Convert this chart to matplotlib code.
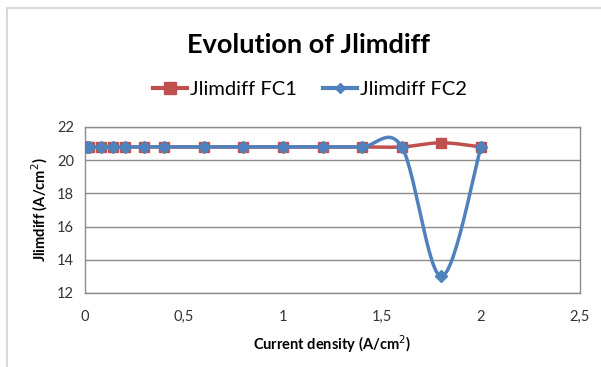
import matplotlib.pyplot as plt
import numpy as np
from matplotlib.lines import Line2D

plt.rcParams['font.family'] = ['Lato', 'DejaVu Sans']

# current density (A/cm2) and Jlimdiff values for both fuel cells
current = [0.01, 0.02, 0.08, 0.14, 0.2, 0.3, 0.4, 0.6, 0.8, 1.0, 1.2, 1.4, 1.6, 1.8, 2.0]
jlim_fc1 = [20.8, 20.8, 20.8, 20.8, 20.8, 20.8, 20.8, 20.8, 20.8, 20.8, 20.8, 20.8, 20.8, 21.05, 20.8]
jlim_fc2 = [20.8, 20.8, 20.8, 20.8, 20.8, 20.8, 20.8, 20.8, 20.8, 20.8, 20.8, 20.8, 20.8, 13.0, 20.8]

xticks = [0, 0.5, 1, 1.5, 2, 2.5]
xticklabels = ['0', '0,5', '1', '1,5', '2', '2,5']
yticks = [12, 14, 16, 18, 20, 22]

red = '#C0504D'
blue = '#4F81BD'


def smooth(x, y, n=30):
    # spreadsheet-style smoothed line: cubic bezier through each point
    x = np.asarray(x, float)
    y = np.asarray(y, float)
    px = np.concatenate([[x[0]], x, [x[-1]]])
    py = np.concatenate([[y[0]], y, [y[-1]]])
    t = np.linspace(0, 1, n)
    xs, ys = [], []
    for i in range(1, len(px) - 2):
        p0 = np.array([px[i], py[i]])
        p3 = np.array([px[i + 1], py[i + 1]])
        c1 = p0 + (np.array([px[i + 1], py[i + 1]]) - np.array([px[i - 1], py[i - 1]])) / 6
        c2 = p3 - (np.array([px[i + 2], py[i + 2]]) - np.array([px[i], py[i]])) / 6
        b = ((1 - t) ** 3)[:, None] * p0 + (3 * (1 - t) ** 2 * t)[:, None] * c1 \
            + (3 * (1 - t) * t ** 2)[:, None] * c2 + (t ** 3)[:, None] * p3
        xs.append(b[:, 0])
        ys.append(b[:, 1])
    return np.concatenate(xs), np.concatenate(ys)


fig = plt.figure(figsize=(6.01, 3.67), dpi=100)
ax = fig.add_axes([85 / 601, 1 - 293 / 367, 495 / 601, 166 / 367])

# chart frame (top and left edges visible)
fig.add_artist(Line2D([7 / 601, 7 / 601], [0, 1 - 7.5 / 367], color='#d9d9d9', lw=1.5))
fig.add_artist(Line2D([7 / 601, 1], [1 - 7.5 / 367, 1 - 7.5 / 367], color='#d9d9d9', lw=1.5))

sx, sy = smooth(current, jlim_fc1)
ax.plot(sx, sy, color=red, lw=2.5, zorder=3)
ax.plot(current, jlim_fc1, ls='none', marker='s', ms=7.5, color=red, zorder=4)

sx, sy = smooth(current, jlim_fc2)
ax.plot(sx, sy, color=blue, lw=2.5, zorder=5)
ax.plot(current, jlim_fc2, ls='none', marker='D', ms=6, color=blue, zorder=6)

ax.set_xlim(0, 2.5)
ax.set_ylim(12, 22)
ax.set_xticks(xticks)
ax.set_xticklabels(xticklabels)
ax.set_yticks(yticks)
ax.tick_params(length=0, labelsize=10.5, colors='#333333')
ax.tick_params(axis='x', pad=12)
ax.tick_params(axis='y', pad=8)
ax.grid(axis='y', color='#8c8c8c', lw=1)
ax.set_axisbelow(True)
for s in ax.spines.values():
    s.set_color('#8c8c8c')
    s.set_linewidth(1)

ax.set_xlabel('Current density (A/cm$^2$)', fontsize=10.5, fontweight='bold', labelpad=7)
ax.set_ylabel('Jlimdiff (A/cm$^2$)', fontsize=10.5, fontweight='bold', labelpad=5)

fig.text(308 / 601, 1 - 45 / 367, 'Evolution of Jlimdiff', fontsize=19.5, fontweight='bold',
         ha='center', va='center')

handles = [Line2D([], [], color=red, lw=3, marker='s', ms=8),
           Line2D([], [], color=blue, lw=3, marker='D', ms=5)]
fig.legend(handles, ['Jlimdiff FC1', 'Jlimdiff FC2'], loc='center',
           bbox_to_anchor=(310 / 601, 1 - 89 / 367), ncol=2, frameon=False,
           fontsize=14.5, handlelength=1.7, handletextpad=0.15, columnspacing=1.3)

fig.savefig('out.png', dpi=100)
